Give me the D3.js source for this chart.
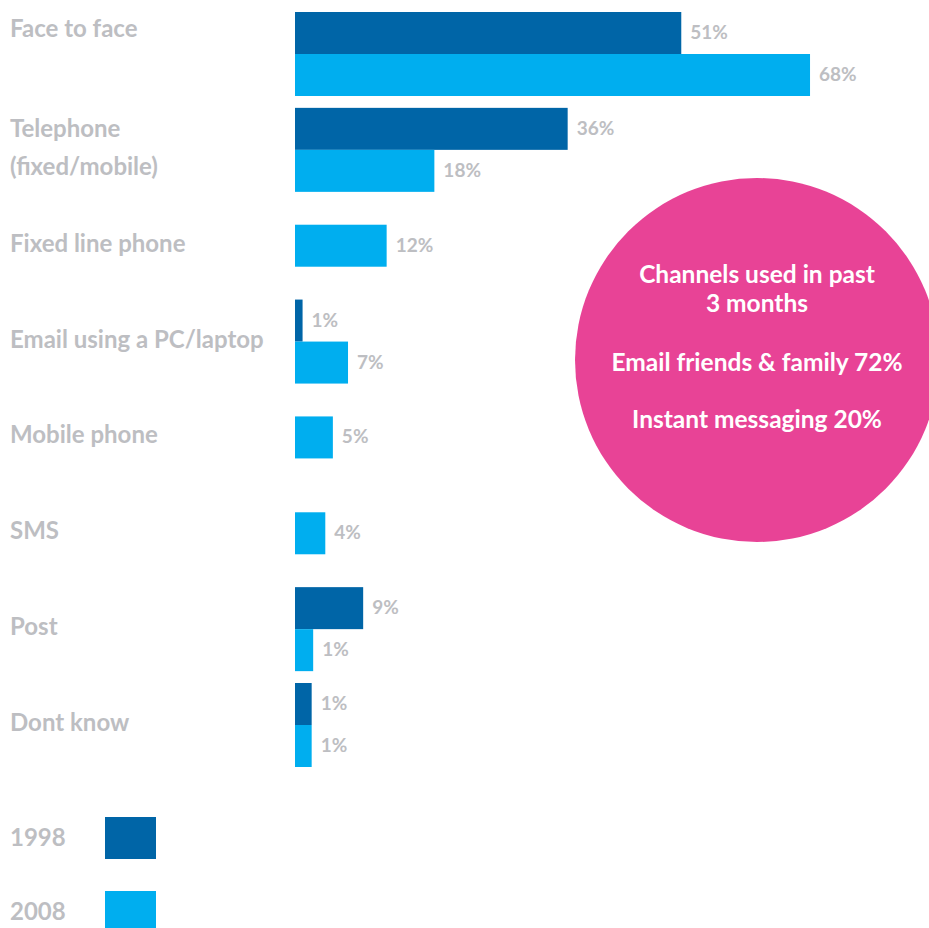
<!DOCTYPE html>
<html>
<head>
<meta charset="utf-8">
<script src="https://cdn.jsdelivr.net/npm/d3@7"></script>
<style>
  html, body { margin: 0; padding: 0; background: #fff; }
  svg { display: block; }
  text { font-family: Lato, "Open Sans", sans-serif; font-weight: bold; }
</style>
</head>
<body>
<svg id="chart" width="929" height="928"></svg>
<script>
// ---- data ----
const categories = ["Face to face", "Telephone\n(fixed/mobile)", "Fixed line phone", "Email using a PC/laptop", "Mobile phone", "SMS", "Post", "Dont know"];
const series = ["1998", "2008"];
// bar lengths (percent)
const values1998 = [51, 36, null, 1, null, null, 9, 2.2];
const values2008 = [68, 18.4, 12.1, 7, 5, 4, 2.4, 2.2];
// printed labels
const labels1998 = ["51%", "36%", null, "1%", null, null, "9%", "1%"];
const labels2008 = ["68%", "18%", "12%", "7%", "5%", "4%", "1%", "1%"];
const calloutLines = ["Channels used in past", "3 months", "", "Email friends & family 72%", "", "Instant messaging 20%"];

const colors = { "1998": "#0065A7", "2008": "#00AEEF" };
const gray = "#BDBEC2";
const pink = "#E84396";

const svg = d3.select("#chart");

const x = d3.scaleLinear().domain([0, 100]).range([295, 295 + 757.4]);
const y = d3.scalePoint().domain(categories).range([54, 725]);
const barH = 42;

// build bar records
const bars = [];
categories.forEach((c, i) => {
  const v98 = values1998[i], v08 = values2008[i];
  const both = v98 != null && v08 != null;
  const cy = y(c);
  if (v98 != null) bars.push({ cat: c, s: "1998", v: v98, label: labels1998[i], top: both ? cy - barH : cy - barH / 2 });
  if (v08 != null) bars.push({ cat: c, s: "2008", v: v08, label: labels2008[i], top: both ? cy : cy - barH / 2 });
});

svg.append("g").selectAll("rect").data(bars).join("rect")
  .attr("x", x(0))
  .attr("y", d => d.top)
  .attr("width", d => x(d.v) - x(0))
  .attr("height", barH)
  .attr("fill", d => colors[d.s]);

svg.append("g").selectAll("text").data(bars).join("text")
  .attr("x", d => x(d.v) + 9)
  .attr("y", d => d.top + barH / 2 + 6)
  .attr("font-size", 19)
  .attr("fill", gray)
  .text(d => d.label);

// category labels
const catG = svg.append("g");
categories.forEach((c, i) => {
  const lines = c.split("\n");
  let cy = y(c) - 3;
  if (i === 0) cy = y(c) - barH / 2 - 5; // first label sits beside the top bar
  const lh = 38;
  const t = catG.append("text")
    .attr("x", 10)
    .attr("font-size", 24)
    .attr("fill", gray);
  lines.forEach((ln, k) => {
    t.append("tspan")
      .attr("x", 10)
      .attr("y", cy + 9 + (k - (lines.length - 1) / 2) * lh)
      .text(ln);
  });
});

// legend
const legY = d3.scalePoint().domain(series).range([838, 912]);
const leg = svg.append("g");
leg.selectAll("rect").data(series).join("rect")
  .attr("x", 105).attr("y", d => legY(d) - 21)
  .attr("width", 51).attr("height", 42)
  .attr("fill", d => colors[d]);
leg.selectAll("text").data(series).join("text")
  .attr("x", 10).attr("y", d => legY(d) + 8)
  .attr("font-size", 24).attr("fill", gray)
  .text(d => d);

// callout circle
svg.append("circle").attr("cx", 757).attr("cy", 360).attr("r", 182).attr("fill", pink);
const ct = svg.append("text").attr("text-anchor", "middle").attr("fill", "#fff").attr("font-size", 24.5);
calloutLines.forEach((ln, k) => {
  if (!ln) return;
  const yy = [283, 312, 0, 371, 0, 428][k];
  ct.append("tspan").attr("x", 757).attr("y", yy).text(ln);
});
</script>
</body>
</html>
